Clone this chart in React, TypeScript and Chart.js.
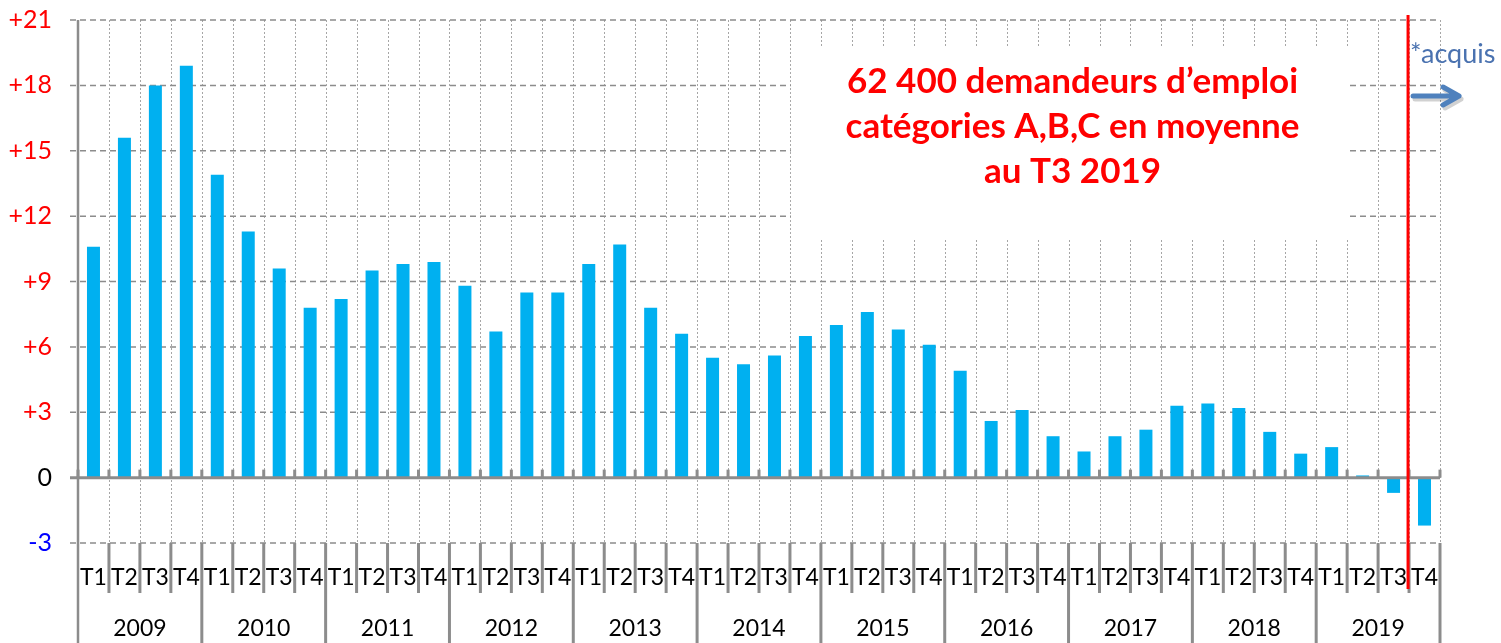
import React, { useEffect, useRef } from "react";
import { Chart, registerables } from "chart.js";

Chart.register(...registerables);

const years = ["2009", "2010", "2011", "2012", "2013", "2014", "2015", "2016", "2017", "2018", "2019"];
const quarters = ["T1", "T2", "T3", "T4"];
const values = [
  10.6, 15.6, 18.0, 18.9,
  13.9, 11.3, 9.6, 7.8,
  8.2, 9.5, 9.8, 9.9,
  8.8, 6.7, 8.5, 8.5,
  9.8, 10.7, 7.8, 6.6,
  5.5, 5.2, 5.6, 6.5,
  7.0, 7.6, 6.8, 6.1,
  4.9, 2.6, 3.1, 1.9,
  1.2, 1.9, 2.2, 3.3,
  3.4, 3.2, 2.1, 1.1,
  1.4, 0.1, -0.7, -2.2,
];
const yTicks = [-3, 0, 3, 6, 9, 12, 15, 18, 21];
const boxLines = ["62 400 demandeurs d\u2019emploi", "catégories A,B,C en moyenne", "au T3 2019"];
const acquisText = "*acquis";

const labels: string[] = [];
years.forEach((yr) => quarters.forEach((q) => labels.push(q + " " + yr)));

const FONT = "Lato, 'Open Sans', sans-serif";
const GRID = "#8c8c8c";

const overlay = {
  id: "overlay",
  beforeDatasetsDraw(chart: any) {
    const { ctx, chartArea, scales } = chart;
    const { left, right, top, bottom } = chartArea;
    const x = scales.x;
    const y = scales.y;
    const n = labels.length;
    const bx = (i: number) =>
      i === 0 ? left : i === n ? right : (x.getPixelForValue(i - 1) + x.getPixelForValue(i)) / 2;
    ctx.save();
    // vertical dotted grid
    ctx.strokeStyle = "#a6a6a6";
    ctx.lineWidth = 1;
    ctx.setLineDash([2, 2]);
    for (let i = 1; i <= n; i++) {
      const px = Math.round(bx(i)) + 0.5;
      ctx.beginPath();
      ctx.moveTo(px, top);
      ctx.lineTo(px, bottom);
      ctx.stroke();
    }
    // horizontal dashed grid
    ctx.strokeStyle = GRID;
    ctx.lineWidth = 1.5;
    ctx.setLineDash([6, 4]);
    yTicks.forEach((v) => {
      if (v === 0) return;
      const py = y.getPixelForValue(v);
      ctx.beginPath();
      ctx.moveTo(left - 8, py);
      ctx.lineTo(right, py);
      ctx.stroke();
    });
    ctx.setLineDash([]);
    // text box
    const bxL = bx(23) + 1;
    const bxR = bx(41) + 1;
    const bTop = top + 26;
    const bBot = top + 220;
    ctx.fillStyle = "#ffffff";
    ctx.fillRect(bxL, bTop, bxR - bxL, bBot - bTop);
    ctx.fillStyle = "#ff0000";
    ctx.font = "bold 35px " + FONT;
    ctx.textAlign = "center";
    ctx.textBaseline = "middle";
    const cx = bx(32) + 4;
    boxLines.forEach((t, i) => {
      ctx.fillText(t, cx, top + 62 + i * 45);
    });
    ctx.restore();
  },
  afterDatasetsDraw(chart: any) {
    const { ctx, chartArea, scales, height } = chart;
    const { left, right, top, bottom } = chartArea;
    const x = scales.x;
    const y = scales.y;
    const n = labels.length;
    const bx = (i: number) =>
      i === 0 ? left : i === n ? right : (x.getPixelForValue(i - 1) + x.getPixelForValue(i)) / 2;
    const y0 = y.getPixelForValue(0);
    ctx.save();
    ctx.strokeStyle = GRID;
    // zero line
    ctx.lineWidth = 3;
    ctx.beginPath();
    ctx.moveTo(left - 8, y0);
    ctx.lineTo(right, y0);
    ctx.stroke();
    // ticks on zero line
    for (let i = 0; i <= n; i++) {
      const px = bx(i);
      ctx.beginPath();
      ctx.moveTo(px, y0 - 8);
      ctx.lineTo(px, y0);
      ctx.stroke();
    }
    // y axis line
    ctx.lineWidth = 2.5;
    ctx.beginPath();
    ctx.moveTo(left, top);
    ctx.lineTo(left, height);
    ctx.stroke();
    // category separators
    ctx.lineWidth = 3;
    for (let i = 1; i <= n; i++) {
      const px = bx(i);
      const isYear = i % 4 === 0;
      ctx.beginPath();
      ctx.moveTo(px, bottom);
      ctx.lineTo(px, isYear ? height : bottom + 50);
      ctx.stroke();
    }
    // quarter labels
    ctx.fillStyle = "#000000";
    ctx.font = "23px " + FONT;
    ctx.textAlign = "center";
    ctx.textBaseline = "middle";
    for (let i = 0; i < n; i++) {
      ctx.fillText(quarters[i % 4], x.getPixelForValue(i), bottom + 35);
    }
    // year labels
    years.forEach((yr, k) => {
      const cx = (bx(k * 4) + bx(k * 4 + 4)) / 2;
      ctx.fillText(yr, cx, bottom + 86);
    });
    // red vertical line between 2019 T3 and T4
    const rx = bx(n - 1) - 1;
    ctx.strokeStyle = "#ff0000";
    ctx.lineWidth = 3;
    ctx.beginPath();
    ctx.moveTo(rx, top - 5);
    ctx.lineTo(rx, bottom + 46);
    ctx.stroke();
    // acquis text
    ctx.fillStyle = "#4a72b0";
    ctx.font = "27px " + FONT;
    ctx.textAlign = "left";
    ctx.textBaseline = "alphabetic";
    ctx.fillText(acquisText, rx + 2, top + 43);
    // arrow
    const ay = top + 76;
    const ax0 = rx + 5;
    const ax1 = rx + 51;
    ctx.lineWidth = 5;
    ctx.lineCap = "round";
    ctx.lineJoin = "round";
    const drawArrow = (dx: number, dy: number) => {
      ctx.beginPath();
      ctx.moveTo(ax0 + dx, ay + dy);
      ctx.lineTo(ax1 + dx, ay + dy);
      ctx.moveTo(ax1 - 16 + dx, ay - 9 + dy);
      ctx.lineTo(ax1 + dx, ay + dy);
      ctx.lineTo(ax1 - 16 + dx, ay + 9 + dy);
      ctx.stroke();
    };
    ctx.strokeStyle = "rgba(0,0,0,0.18)";
    drawArrow(2, 3);
    ctx.strokeStyle = "#4f81bd";
    drawArrow(0, 0);
    ctx.restore();
  },
};

export default function App() {
  const ref = useRef<HTMLCanvasElement | null>(null);
  useEffect(() => {
    if (!ref.current) return;
    const chart = new Chart(ref.current, {
      type: "bar",
      data: {
        labels,
        datasets: [
          {
            data: values,
            backgroundColor: "#00b0f0",
            barPercentage: 0.42,
            categoryPercentage: 1,
          },
        ],
      },
      options: {
        responsive: false,
        animation: false,
        layout: { padding: { left: 0, right: 61, top: 20, bottom: 100 } },
        plugins: { legend: { display: false }, tooltip: { enabled: false } },
        scales: {
          x: { display: false, offset: true },
          y: {
            min: -3,
            max: 21,
            afterFit: (s: any) => {
              s.width = 78;
              s.paddingTop = 0;
              s.paddingBottom = 0;
            },
            afterBuildTicks: (s: any) => {
              s.ticks = yTicks.map((v) => ({ value: v }));
            },
            grid: { display: true, color: "transparent", drawTicks: true, tickLength: 8 },
            border: { display: false },
            ticks: {
              padding: 18,
              font: { family: FONT, size: 25 },
              color: (c: any) => (c.tick.value > 0 ? "#ff0000" : c.tick.value < 0 ? "#0000ff" : "#000000"),
              callback: (v: any) => (v > 0 ? "+" + v : String(v)),
            },
          },
        },
      },
      plugins: [overlay],
    });
    return () => chart.destroy();
  }, []);
  return (
    <div style={{ position: "absolute", left: 0, top: 0, width: 1501, height: 643, background: "#fff" }}>
      <canvas ref={ref} width={1501} height={643} />
    </div>
  );
}
